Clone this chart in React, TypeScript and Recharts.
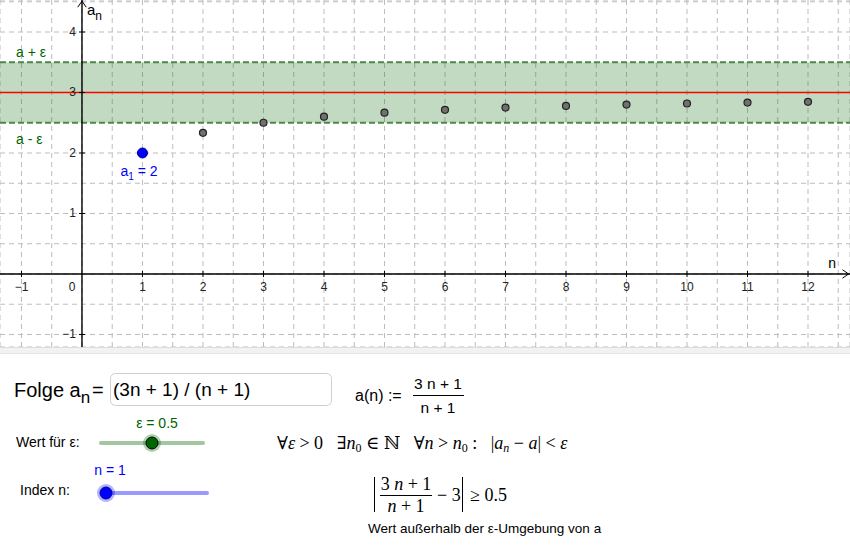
import {
  ComposedChart,
  Scatter,
  XAxis,
  YAxis,
  CartesianGrid,
  ReferenceArea,
  ReferenceLine,
  ReferenceDot,
} from "recharts";

// sequence a_n = (3n+1)/(n+1)
const indexN = [1, 2, 3, 4, 5, 6, 7, 8, 9, 10, 11, 12];
const seqValues = [2, 2.333, 2.5, 2.6, 2.667, 2.714, 2.75, 2.778, 2.8, 2.818, 2.833, 2.846];

const limitA = 3;
const epsilon = 0.5;

const xTickLabels = [-1, 0, 1, 2, 3, 4, 5, 6, 7, 8, 9, 10, 11, 12];
const yTickLabels = [-1, 1, 2, 3, 4];

const gridX = [-1, -0.5, 0, 0.5, 1, 1.5, 2, 2.5, 3, 3.5, 4, 4.5, 5, 5.5, 6, 6.5, 7, 7.5, 8, 8.5, 9, 9.5, 10, 10.5, 11, 11.5, 12, 12.5];
const gridY = [-1, -0.5, 0, 0.5, 1, 1.5, 2, 2.5, 3, 3.5, 4, 4.5];

const X_DOMAIN: [number, number] = [-1.355, 12.694];
const Y_DOMAIN: [number, number] = [-1.207, 4.529];

const SANS = "'Liberation Sans', Arial, sans-serif";
const SERIF = "'Liberation Serif', 'DejaVu Serif', serif";
const GREEN = "#006400";

const points = indexN.map((n, i) => ({ n, a: seqValues[i] }));

function textShape(dx: number, dy: number, body: React.ReactNode, opts: any = {}) {
  return (p: any) => (
    <text
      x={p.cx + dx}
      y={p.cy + dy}
      fontFamily={SANS}
      fontSize={opts.size ?? 12}
      fill={opts.color ?? "#222"}
      textAnchor={opts.anchor ?? "middle"}
    >
      {body}
    </text>
  );
}

function PointShape(props: any) {
  const { cx, cy, payload } = props;
  if (payload.n === 1) {
    return <circle cx={cx} cy={cy} r={5} fill="#0000ff" stroke="#00008b" strokeWidth={1} />;
  }
  return <circle cx={cx} cy={cy} r={3.5} fill="#707070" stroke="#222" strokeWidth={1.2} />;
}

function SequenceChart() {
  return (
    <ComposedChart width={850} height={347} margin={{ top: 0, right: 0, bottom: 0, left: 0 }}>
      <XAxis type="number" dataKey="n" domain={X_DOMAIN} ticks={gridX} allowDataOverflow hide />
      <YAxis type="number" dataKey="a" domain={Y_DOMAIN} ticks={gridY} allowDataOverflow hide />
      <CartesianGrid stroke="#bdbdbd" strokeDasharray="5 4" />

      <ReferenceArea y1={limitA - epsilon} y2={limitA + epsilon} fill={GREEN} fillOpacity={0.24} stroke="none" />
      <ReferenceLine y={limitA + epsilon} stroke="#4f874f" strokeWidth={2} strokeDasharray="6 3" />
      <ReferenceLine y={limitA - epsilon} stroke="#4f874f" strokeWidth={2} strokeDasharray="6 3" />
      <ReferenceLine y={limitA} stroke="#ff0000" strokeWidth={1.5} />

      {/* axes */}
      <ReferenceLine x={0} stroke="#000" strokeWidth={1.4} />
      <ReferenceLine y={0} stroke="#000" strokeWidth={1.4} />
      <ReferenceLine segment={[{ x: -0.07, y: 4.41 }, { x: 0, y: 4.51 }]} stroke="#000" strokeWidth={1} />
      <ReferenceLine segment={[{ x: 0.07, y: 4.41 }, { x: 0, y: 4.51 }]} stroke="#000" strokeWidth={1} />
      <ReferenceLine segment={[{ x: 12.57, y: 0.07 }, { x: 12.67, y: 0 }]} stroke="#000" strokeWidth={1} />
      <ReferenceLine segment={[{ x: 12.57, y: -0.07 }, { x: 12.67, y: 0 }]} stroke="#000" strokeWidth={1} />

      {xTickLabels.filter((t) => t !== 0).map((t) => (
        <ReferenceLine key={"xt" + t} segment={[{ x: t, y: -0.05 }, { x: t, y: 0.05 }]} stroke="#000" strokeWidth={1} />
      ))}
      {yTickLabels.map((t) => (
        <ReferenceLine key={"yt" + t} segment={[{ x: -0.05, y: t }, { x: 0.05, y: t }]} stroke="#000" strokeWidth={1} />
      ))}

      {xTickLabels.map((t) => (
        <ReferenceDot
          key={"xl" + t}
          x={t}
          y={0}
          r={0}
          shape={textShape(t === 0 ? -10 : 0, 17, t < 0 ? "\u2212" + Math.abs(t) : String(t))}
        />
      ))}
      {yTickLabels.map((t) => (
        <ReferenceDot
          key={"yl" + t}
          x={0}
          y={t}
          r={0}
          shape={textShape(-6, 4, t < 0 ? "\u2212" + Math.abs(t) : String(t), { anchor: "end" })}
        />
      ))}

      {/* axis names */}
      <ReferenceDot
        x={0}
        y={4.529}
        r={0}
        shape={textShape(5, 15, <>a<tspan dy={5} fontSize={12}>n</tspan></>, { size: 15, anchor: "start", color: "#000" })}
      />
      <ReferenceDot x={12.4} y={0} r={0} shape={textShape(0, -6, "n", { size: 14, color: "#000" })} />

      {/* epsilon band labels */}
      <ReferenceDot x={-1.355} y={limitA + epsilon} r={0} shape={textShape(16, -5, "a + \u03b5", { size: 14, anchor: "start", color: GREEN })} />
      <ReferenceDot x={-1.355} y={limitA - epsilon} r={0} shape={textShape(16, 21, "a - \u03b5", { size: 14, anchor: "start", color: GREEN })} />

      <Scatter data={points} dataKey="a" shape={PointShape} isAnimationActive={false} />

      <ReferenceDot
        x={indexN[0]}
        y={seqValues[0]}
        r={0}
        shape={textShape(-22, 23, <>a<tspan dy={4} fontSize={10}>1</tspan><tspan dy={-4}> = 2</tspan></>, { size: 14, anchor: "start", color: "#0000ff" })}
      />
    </ComposedChart>
  );
}

function Controls() {
  const it = { fontStyle: "italic" as const };
  return (
    <svg width={850} height={560} style={{ position: "absolute", left: 0, top: 0, pointerEvents: "none" }}>
      <rect x={0} y={347} width={850} height={7} fill="#f2f2f2" />
      <line x1={0} y1={347.5} x2={850} y2={347.5} stroke="#dcdcdc" />
      <line x1={0} y1={353.5} x2={850} y2={353.5} stroke="#e4e4e4" />

      {/* sequence input */}
      <text x={14} y={397} fontFamily={SANS} fontSize={20} fill="#000">
        Folge a<tspan dy={6} fontSize={17}>n</tspan>
      </text>
      <text x={92} y={397} fontFamily={SANS} fontSize={20} fill="#000">=</text>
      <rect x={110.5} y={373.5} width={221} height={32} rx={5} fill="#fff" stroke="#cfcfcf" />
      <text x={113} y={396} fontFamily={SANS} fontSize={19} fill="#000">(3n + 1) / (n + 1)</text>

      <text x={355} y={401} fontFamily={SANS} fontSize={16} fill="#000">a(n) :=</text>
      <text x={438} y={389} fontFamily={SANS} fontSize={15.5} textAnchor="middle">3 n + 1</text>
      <line x1={413} y1={395.5} x2={464} y2={395.5} stroke="#000" strokeWidth={1} />
      <text x={438} y={413} fontFamily={SANS} fontSize={15.5} textAnchor="middle">n + 1</text>

      {/* epsilon slider */}
      <text x={157} y={428} fontFamily={SANS} fontSize={14} fill={GREEN} textAnchor="middle">ε = 0.5</text>
      <text x={16} y={447} fontFamily={SANS} fontSize={14} fill="#000">Wert für ε:</text>
      <line x1={101} y1={443} x2={203} y2={443} stroke="#a2c6a2" strokeWidth={4} strokeLinecap="round" />
      <circle cx={152} cy={443} r={9} fill={GREEN} fillOpacity={0.3} />
      <circle cx={152} cy={443} r={6} fill={GREEN} stroke="#000" strokeWidth={1} />

      <text x={277} y={449} fontFamily={SERIF} fontSize={18} fill="#000">
        ∀<tspan {...it}>ε</tspan> &gt; 0 {"\u00a0\u00a0"}∃<tspan {...it}>n</tspan>
        <tspan dy={3} fontSize={12}>0</tspan>
        <tspan dy={-3}> ∈ ℕ {"\u00a0\u00a0"}∀</tspan><tspan {...it}>n</tspan> &gt; <tspan {...it}>n</tspan>
        <tspan dy={3} fontSize={12}>0</tspan>
        <tspan dy={-3}> : {"\u00a0\u00a0"}|</tspan><tspan {...it}>a</tspan>
        <tspan dy={3} fontSize={12} {...it}>n</tspan>
        <tspan dy={-3}> − </tspan><tspan {...it}>a</tspan>| &lt; <tspan {...it}>ε</tspan>
      </text>

      {/* index slider */}
      <text x={110} y={475} fontFamily={SANS} fontSize={14} fill="#0000ff" textAnchor="middle">n = 1</text>
      <text x={20} y={495} fontFamily={SANS} fontSize={14} fill="#000">Index n:</text>
      <line x1={106} y1={493} x2={207} y2={493} stroke="#9999ff" strokeWidth={4} strokeLinecap="round" />
      <circle cx={106} cy={493} r={9} fill="#0000ff" fillOpacity={0.3} />
      <circle cx={106} cy={493} r={6} fill="#0000ff" stroke="#00008b" strokeWidth={1} />

      {/* |a_n - a| >= eps */}
      <line x1={374.5} y1={477} x2={374.5} y2={512} stroke="#000" strokeWidth={1} />
      <text x={406} y={490} fontFamily={SERIF} fontSize={18} textAnchor="middle">
        3 <tspan {...it}>n</tspan> + 1
      </text>
      <line x1={380} y1={495.5} x2={432} y2={495.5} stroke="#000" strokeWidth={1} />
      <text x={406} y={512} fontFamily={SERIF} fontSize={18} textAnchor="middle">
        <tspan {...it}>n</tspan> + 1
      </text>
      <text x={437} y={501} fontFamily={SERIF} fontSize={18}>− 3</text>
      <line x1={462.5} y1={477} x2={462.5} y2={512} stroke="#000" strokeWidth={1} />
      <text x={470} y={501} fontFamily={SERIF} fontSize={18}>≥ 0.5</text>

      <text x={368} y={533} fontFamily={SANS} fontSize={13.5} fill="#000">
        Wert außerhalb der ε-Umgebung von a
      </text>
    </svg>
  );
}

export default function App() {
  return (
    <div style={{ position: "absolute", left: 0, top: 0, width: 850, height: 560, background: "#fff" }}>
      <SequenceChart />
      <Controls />
    </div>
  );
}
